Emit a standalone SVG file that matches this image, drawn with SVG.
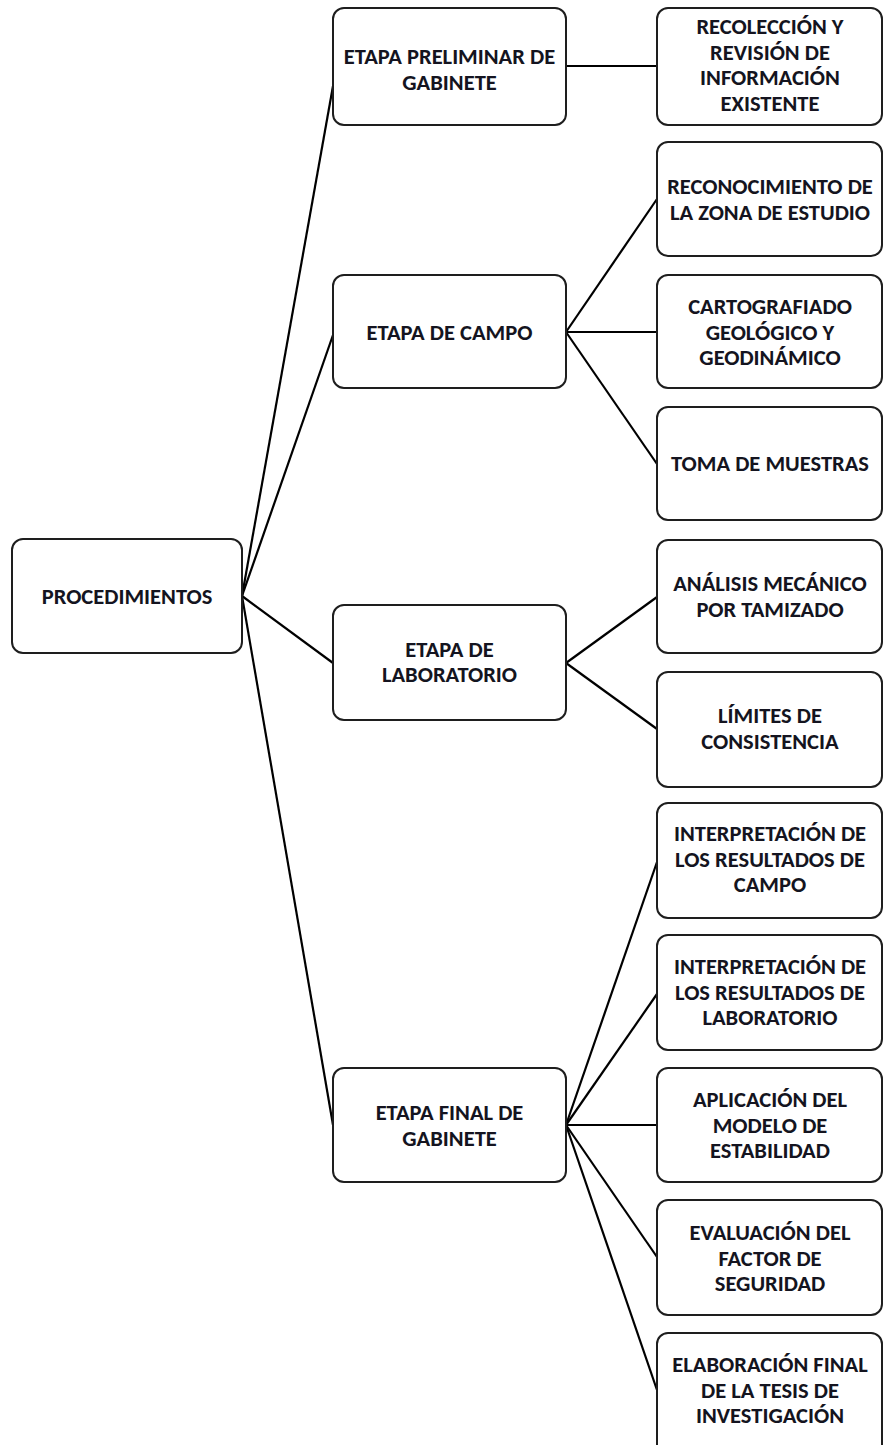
<svg xmlns="http://www.w3.org/2000/svg" width="883" height="1445" viewBox="0 0 883 1445">
<style>
.box{fill:#fff;stroke:#1e1e1e;stroke-width:2}
.lbl{font-family:Carlito,Lato,"Open Sans",sans-serif;font-weight:bold;font-size:22.5px;fill:#141420;text-anchor:middle}
.conn line{stroke:#000;stroke-width:2.2;fill:none}
</style>
<rect width="883" height="1445" fill="#fff"/>
<g class="conn" id="connectors">
<line x1="242" y1="596" x2="333" y2="86"/>
<line x1="242" y1="596" x2="333" y2="335"/>
<line x1="242" y1="596" x2="333" y2="663"/>
<line x1="242" y1="596" x2="333" y2="1125"/>
<line x1="566" y1="66" x2="657" y2="66"/>
<line x1="566" y1="332" x2="657" y2="199"/>
<line x1="566" y1="332" x2="657" y2="332"/>
<line x1="566" y1="332" x2="657" y2="464"/>
<line x1="566" y1="663" x2="657" y2="597"/>
<line x1="566" y1="663" x2="657" y2="729"/>
<line x1="566" y1="1125" x2="657" y2="862"/>
<line x1="566" y1="1125" x2="657" y2="994"/>
<line x1="566" y1="1125" x2="657" y2="1125"/>
<line x1="566" y1="1125" x2="657" y2="1257"/>
<line x1="566" y1="1125" x2="657" y2="1390"/>
</g>
<g id="root"><rect class="box" x="12" y="539" width="230" height="114" rx="11"/><text class="lbl" x="127" y="604">PROCEDIMIENTOS</text></g>
<g id="m1"><rect class="box" x="333" y="8" width="233" height="117" rx="11"/><text class="lbl" x="449.5" y="64">ETAPA PRELIMINAR DE</text><text class="lbl" x="449.5" y="90">GABINETE</text></g>
<g id="m2"><rect class="box" x="333" y="275" width="233" height="113" rx="11"/><text class="lbl" x="449.5" y="340">ETAPA DE CAMPO</text></g>
<g id="m3"><rect class="box" x="333" y="605" width="233" height="115" rx="11"/><text class="lbl" x="449.5" y="657">ETAPA DE</text><text class="lbl" x="449.5" y="682">LABORATORIO</text></g>
<g id="m4"><rect class="box" x="333" y="1068" width="233" height="114" rx="11"/><text class="lbl" x="449.5" y="1120">ETAPA FINAL DE</text><text class="lbl" x="449.5" y="1146">GABINETE</text></g>
<g id="r1"><rect class="box" x="657" y="8" width="225" height="117" rx="11"/><text class="lbl" x="770" y="34">RECOLECCIÓN Y</text><text class="lbl" x="770" y="59.5">REVISIÓN DE</text><text class="lbl" x="770" y="85">INFORMACIÓN</text><text class="lbl" x="770" y="110.5">EXISTENTE</text></g>
<g id="r2"><rect class="box" x="657" y="142" width="225" height="114" rx="11"/><text class="lbl" x="770" y="194">RECONOCIMIENTO DE</text><text class="lbl" x="770" y="220">LA ZONA DE ESTUDIO</text></g>
<g id="r3"><rect class="box" x="657" y="275" width="225" height="113" rx="11"/><text class="lbl" x="770" y="314">CARTOGRAFIADO</text><text class="lbl" x="770" y="340">GEOLÓGICO Y</text><text class="lbl" x="770" y="365">GEODINÁMICO</text></g>
<g id="r4"><rect class="box" x="657" y="407" width="225" height="113" rx="11"/><text class="lbl" x="770" y="471">TOMA DE MUESTRAS</text></g>
<g id="r5"><rect class="box" x="657" y="540" width="225" height="113" rx="11"/><text class="lbl" x="770" y="591">ANÁLISIS MECÁNICO</text><text class="lbl" x="770" y="617">POR TAMIZADO</text></g>
<g id="r6"><rect class="box" x="657" y="672" width="225" height="115" rx="11"/><text class="lbl" x="770" y="723">LÍMITES DE</text><text class="lbl" x="770" y="749">CONSISTENCIA</text></g>
<g id="r7"><rect class="box" x="657" y="803" width="225" height="115" rx="11"/><text class="lbl" x="770" y="841">INTERPRETACIÓN DE</text><text class="lbl" x="770" y="867">LOS RESULTADOS DE</text><text class="lbl" x="770" y="892">CAMPO</text></g>
<g id="r8"><rect class="box" x="657" y="935" width="225" height="115" rx="11"/><text class="lbl" x="770" y="974">INTERPRETACIÓN DE</text><text class="lbl" x="770" y="1000">LOS RESULTADOS DE</text><text class="lbl" x="770" y="1025">LABORATORIO</text></g>
<g id="r9"><rect class="box" x="657" y="1068" width="225" height="114" rx="11"/><text class="lbl" x="770" y="1107">APLICACIÓN DEL</text><text class="lbl" x="770" y="1133">MODELO DE</text><text class="lbl" x="770" y="1158">ESTABILIDAD</text></g>
<g id="r10"><rect class="box" x="657" y="1200" width="225" height="115" rx="11"/><text class="lbl" x="770" y="1240">EVALUACIÓN DEL</text><text class="lbl" x="770" y="1266">FACTOR DE</text><text class="lbl" x="770" y="1291">SEGURIDAD</text></g>
<g id="r11"><rect class="box" x="657" y="1333" width="225" height="125" rx="11"/><text class="lbl" x="770" y="1372">ELABORACIÓN FINAL</text><text class="lbl" x="770" y="1398">DE LA TESIS DE</text><text class="lbl" x="770" y="1423">INVESTIGACIÓN</text></g>
</svg>
